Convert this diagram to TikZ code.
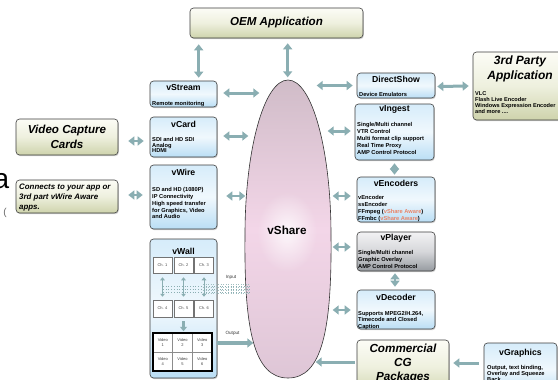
\documentclass[tikz,border=0pt]{standalone}
\usepackage{fontspec}
\setmainfont{Liberation Sans}
\usetikzlibrary{arrows.meta,shadows,calc,fadings}
\tikzfading[name=myglow, inner color=transparent!0, outer color=transparent!100]
\definecolor{arrowc}{RGB}{138,174,178}
\definecolor{bluetop}{RGB}{214,236,250}
\definecolor{bluemid}{RGB}{240,248,253}
\definecolor{bluebot}{RGB}{186,222,245}
\definecolor{olivetop}{RGB}{252,252,246}
\definecolor{olivemid}{RGB}{238,240,222}
\definecolor{olivebot}{RGB}{206,211,172}
\definecolor{graytop}{RGB}{242,242,244}
\definecolor{graymid}{RGB}{214,215,218}
\definecolor{graybot}{RGB}{150,155,160}
\definecolor{elltop}{RGB}{208,188,200}
\definecolor{ellmid}{RGB}{243,214,232}
\definecolor{ellbot}{RGB}{222,198,214}
\definecolor{awarec}{RGB}{232,132,104}
\definecolor{bordc}{RGB}{60,60,60}
\tikzset{
  boxbase/.style={draw=bordc, line width=0.6pt, rounded corners=3.5pt, inner sep=0pt,
    drop shadow={opacity=0.35, shadow xshift=0.8pt, shadow yshift=-1.2pt}},
  bluebox/.style={boxbase, top color=bluetop, bottom color=bluebot, middle color=bluemid},
  olivebox/.style={boxbase, top color=olivetop, bottom color=olivebot, middle color=olivemid},
  graybox/.style={boxbase, top color=graytop, bottom color=graybot, middle color=graymid},
  ttl/.style={inner sep=0pt, font=\fontsize{8.7}{10}\selectfont\bfseries},
  body/.style={anchor=north west, inner sep=0pt, align=left, font=\fontsize{5.7}{7}\selectfont\bfseries},
  bigit/.style={inner sep=0pt, align=center, font=\fontsize{11.6}{14.3}\selectfont\bfseries\itshape},
  arr/.style={draw=arrowc, line width=3pt, {Triangle[length=6pt,width=9pt]}-{Triangle[length=6pt,width=9pt]}},
  arrs/.style={draw=arrowc, line width=3pt, -{Triangle[length=6pt,width=9pt]}},
  tarr/.style={draw=arrowc, line width=1pt, {Triangle[length=3pt,width=4.5pt]}-{Triangle[length=3pt,width=4.5pt]}},
  chbox/.style={draw=black!55, fill=white, line width=0.5pt, minimum width=19pt, inner sep=0pt,
    font=\fontsize{4}{5}\selectfont, text=black!70},
  vcell/.style={draw=black!45, fill=white, line width=0.4pt, minimum width=19.67pt, minimum height=19pt,
    inner sep=0pt, align=center, font=\fontsize{4}{4.8}\selectfont, text=black!75},
  lbl/.style={inner sep=0pt, font=\fontsize{4.6}{5}\selectfont, text=black!80}
}
\begin{document}
\begin{tikzpicture}[x=1pt,y=-1pt]
\useasboundingbox (0,0) rectangle (558,380);
\clip (0,0) rectangle (558,380);
\fill[white] (0,0) rectangle (558,380);

% cropped fragments at the left edge
\node[anchor=base east, inner sep=0pt, font=\fontsize{28}{30}\selectfont] (frag1) at (9.5,188.5) {a};
\node[inner sep=0pt, font=\fontsize{10}{12}\selectfont, text=black!60] (frag2) at (5,213) {(};

% vShare ellipse
\path[draw=black!80, line width=0.6pt, top color=elltop, bottom color=ellbot, middle color=ellmid]
  (288,80) .. controls (312,80) and (331,150) .. (331,235)
  .. controls (332,330) and (322,378) .. (288,378)
  .. controls (254,378) and (244,330) .. (245,235)
  .. controls (245,150) and (264,80) .. (288,80) -- cycle;
\fill[white, path fading=myglow, opacity=0.8] (287,232) ellipse (30 and 40);
\node[inner sep=0pt, font=\fontsize{11.7}{13}\selectfont\bfseries] (vshare) at (287,230) {vShare};

% boxes
\node[olivebox, minimum width=173pt, minimum height=30pt] (oem) at (276.5,23) {};
\node[bigit] at (oem.center) {OEM Application};

\node[bluebox, minimum width=67pt, minimum height=26pt] (vstream) at (183.5,94) {};
\node[ttl] at (183.5,88) {vStream};
\node[body] at (152,100.8) {Remote monitoring};

\node[bluebox, minimum width=67pt, minimum height=40pt] (vcard) at (183.5,137) {};
\node[ttl] at (183.5,124) {vCard};
\node[body, font=\fontsize{5.7}{5.6}\selectfont\bfseries] at (152,137.3) {SDI and HD SDI\\Analog\\HDMI};

\node[bluebox, minimum width=67pt, minimum height=64pt] (vwire) at (183.5,197) {};
\node[ttl] at (183.5,172) {vWire};
\node[body, font=\fontsize{5.7}{6.8}\selectfont\bfseries] at (152,187.3) {SD and HD (1080P)\\IP Connectivity\\High speed transfer\\for Graphics, Video\\and Audio};

\node[bluebox, minimum width=67pt, minimum height=139pt] (vwall) at (183.5,308.5) {};
\node[ttl] at (183.5,251) {vWall};

\node[olivebox, minimum width=102pt, minimum height=36pt] (vcc) at (67,137) {};
\node[bigit] at (67,137) {Video Capture\\Cards};

\node[olivebox, minimum width=102pt, minimum height=33pt] (conn) at (67,196.5) {};
\node[anchor=north west, inner sep=0pt, align=left, font=\fontsize{7.9}{9.7}\selectfont\bfseries\itshape] at (19,184.2) {Connects to your app or\\3rd part vWire Aware\\apps.};

\node[bluebox, minimum width=78pt, minimum height=25pt] (dshow) at (396,85.5) {};
\node[ttl] at (396,79) {DirectShow};
\node[body] at (359,91.8) {Device Emulators};

\node[olivebox, minimum width=97pt, minimum height=68pt] (third) at (521.5,86) {};
\node[bigit, font=\fontsize{12}{14.3}\selectfont\bfseries\itshape] at (520,69) {3rd Party\\Application};
\node[body, font=\fontsize{5.6}{6}\selectfont\bfseries] at (475,91.8) {VLC\\Flash Live Encoder\\Windows Expression Encoder\\and more ....};

\node[bluebox, minimum width=79pt, minimum height=56pt] (vingest) at (394.5,132) {};
\node[ttl] at (394.5,109.5) {vIngest};
\node[body] at (357,121.8) {Single/Multi channel\\VTR Control\\Multi format clip support\\Real Time Proxy\\AMP Control Protocol};

\node[bluebox, minimum width=78pt, minimum height=45pt] (vencoders) at (396,199.5) {};
\node[ttl] at (396,183.5) {vEncoders};
\node[body] at (358,194.8) {vEncoder\\ssEncoder\\FFmpeg ({\color{awarec}vShare Aware})\\FFmbc ({\color{awarec}vShare Aware})};

\node[graybox, minimum width=78pt, minimum height=39pt] (vplayer) at (396,251.5) {};
\node[ttl] at (396,238.5) {vPlayer};
\node[body] at (358,249.8) {Single/Multi channel\\Graphic Overlay\\AMP Control Protocol};

\node[bluebox, minimum width=78pt, minimum height=39pt] (vdecoder) at (396,309.5) {};
\node[ttl] at (396,297.5) {vDecoder};
\node[body, font=\fontsize{5.7}{6.5}\selectfont\bfseries] at (358,310.8) {Supports MPEG2/H.264,\\Timecode and Closed\\Caption};

\node[olivebox, minimum width=92pt, minimum height=55pt] (cg) at (403,367.5) {};
\node[bigit, font=\fontsize{11.7}{14.2}\selectfont\bfseries\itshape, anchor=north] at (403,343.8) {Commercial\\CG\\Packages};

\node[bluebox, minimum width=73pt, minimum height=52pt] (vgraphics) at (520.5,369) {};
\node[ttl] at (520.5,353.5) {vGraphics};
\node[body, font=\fontsize{5.7}{6.2}\selectfont\bfseries] at (487,364.8) {Output, text binding,\\Overlay and Squeeze\\Back};

% vWall internals
\foreach \i/\x in {1/162.5,2/183.5,3/204}{
  \node[chbox, minimum height=16pt] (ch\i) at (\x,265) {Ch. \i};
}
\foreach \i/\x in {4/162.5,5/183.5,6/204}{
  \node[chbox, minimum height=17pt] (ch\i) at (\x,308.5) {Ch. \i};
}
\foreach \a/\b in {ch1/ch4,ch2/ch5,ch3/ch6}{
  \draw[tarr] ($(\a.south)+(0,4)$) -- ($(\b.north)+(0,-3)$);
}
\coordinate (inL) at (163,289);
\coordinate (inR) at (250,289);
\foreach \d in {-3,0,3}{
  \draw[arrowc, line width=0.7pt, dotted] ($(inL)+(0,\d)$) -- ($(inR)+(0,\d)$);
}
\foreach \d in {-4.5,-1.5,1.5,4.5}{
  \draw[arrowc!80, line width=0.5pt, dotted] ($(inR)+(-47,\d)$) -- ($(inR)+(0,\d)$);
}
\node[lbl] (inputlbl) at (231,277.5) {Input};

\draw[arrowc, line width=2.6pt, -{Triangle[length=4.5pt,width=7pt]}] ($(ch5.south)+(0,4)$) -- ($(ch5.south)+(0,14)$);

\foreach \r/\y in {0/342.5,1/361.5}{
  \foreach \c/\x in {1/162.83,2/182.5,3/202.17}{
    \pgfmathtruncatemacro{\n}{\r*3+\c}
    \node[vcell] (v\n) at (\x,\y) {Video\\\n};
  }
}
\draw[black, line width=1.6pt] (v1.north west) rectangle (v6.south east);

\draw[arrs, line width=3.3pt] ($(vwall.east)+(0,34.5)$) -- ($(vwall.east)+(36,34.5)$);
\node[lbl] (outputlbl) at (232.5,333) {Output};

% connectors
\draw[arr] ($(oem.south west)+(9,6)$) -- ($(vstream.north west)+(49,-3)$);
\draw[arr] ($(oem.south west)+(98,5)$) -- ($(oem.south west)+(98,39)$);
\draw[arr] ($(vstream.east)+(6,-1)$) -- ($(vstream.east)+(42,-1)$);
\draw[arr, line width=2.2pt] ($(vcc.east)+(10,4)$) -- ($(vcard.west)+(-6,4)$);
\draw[arr] ($(vcard.east)+(6,-1)$) -- ($(vcard.east)+(31,-1)$);
\draw[arr, line width=2.2pt] ($(conn.east)+(10,-1.5)$) -- ($(vwire.west)+(-7,-2)$);
\draw[arr, line width=2.2pt] ($(vwire.east)+(9,-1)$) -- ($(vwire.east)+(28,-1)$);
\draw[arr] ($(dshow.west)+(-40,0)$) -- ($(dshow.west)+(-4,0)$);
\draw[arr] ($(dshow.east)+(2,1)$) -- ($(third.west)+(-4,0)$);
\draw[arr] ($(vingest.west)+(-27,-1)$) -- ($(vingest.west)+(-4,-1)$);
\draw[arr, line width=2.4pt] ($(vingest.south)+(0,3)$) -- ($(vencoders.north)+(-1.5,-2)$);
\draw[arr, line width=2.4pt] ($(vencoders.west)+(-24,-3.5)$) -- ($(vencoders.west)+(-6,-3.5)$);
\draw[arr, line width=2.4pt] ($(vplayer.west)+(-24,-4.5)$) -- ($(vplayer.west)+(-6,-4.5)$);
\draw[arr, line width=2.4pt] ($(vplayer.south)+(-1,2)$) -- ($(vdecoder.north)+(-1,-3)$);
\draw[arr, line width=2.4pt] ($(vdecoder.west)+(-24,0.5)$) -- ($(vdecoder.west)+(-6,0.5)$);
\draw[arrs] ($(cg.west)+(-2,-5.5)$) -- ($(cg.west)+(-41,-5.5)$);
\draw[arrs] ($(vgraphics.west)+(-5,-6)$) -- ($(cg.east)+(4,-4.5)$);
\end{tikzpicture}
\end{document}
